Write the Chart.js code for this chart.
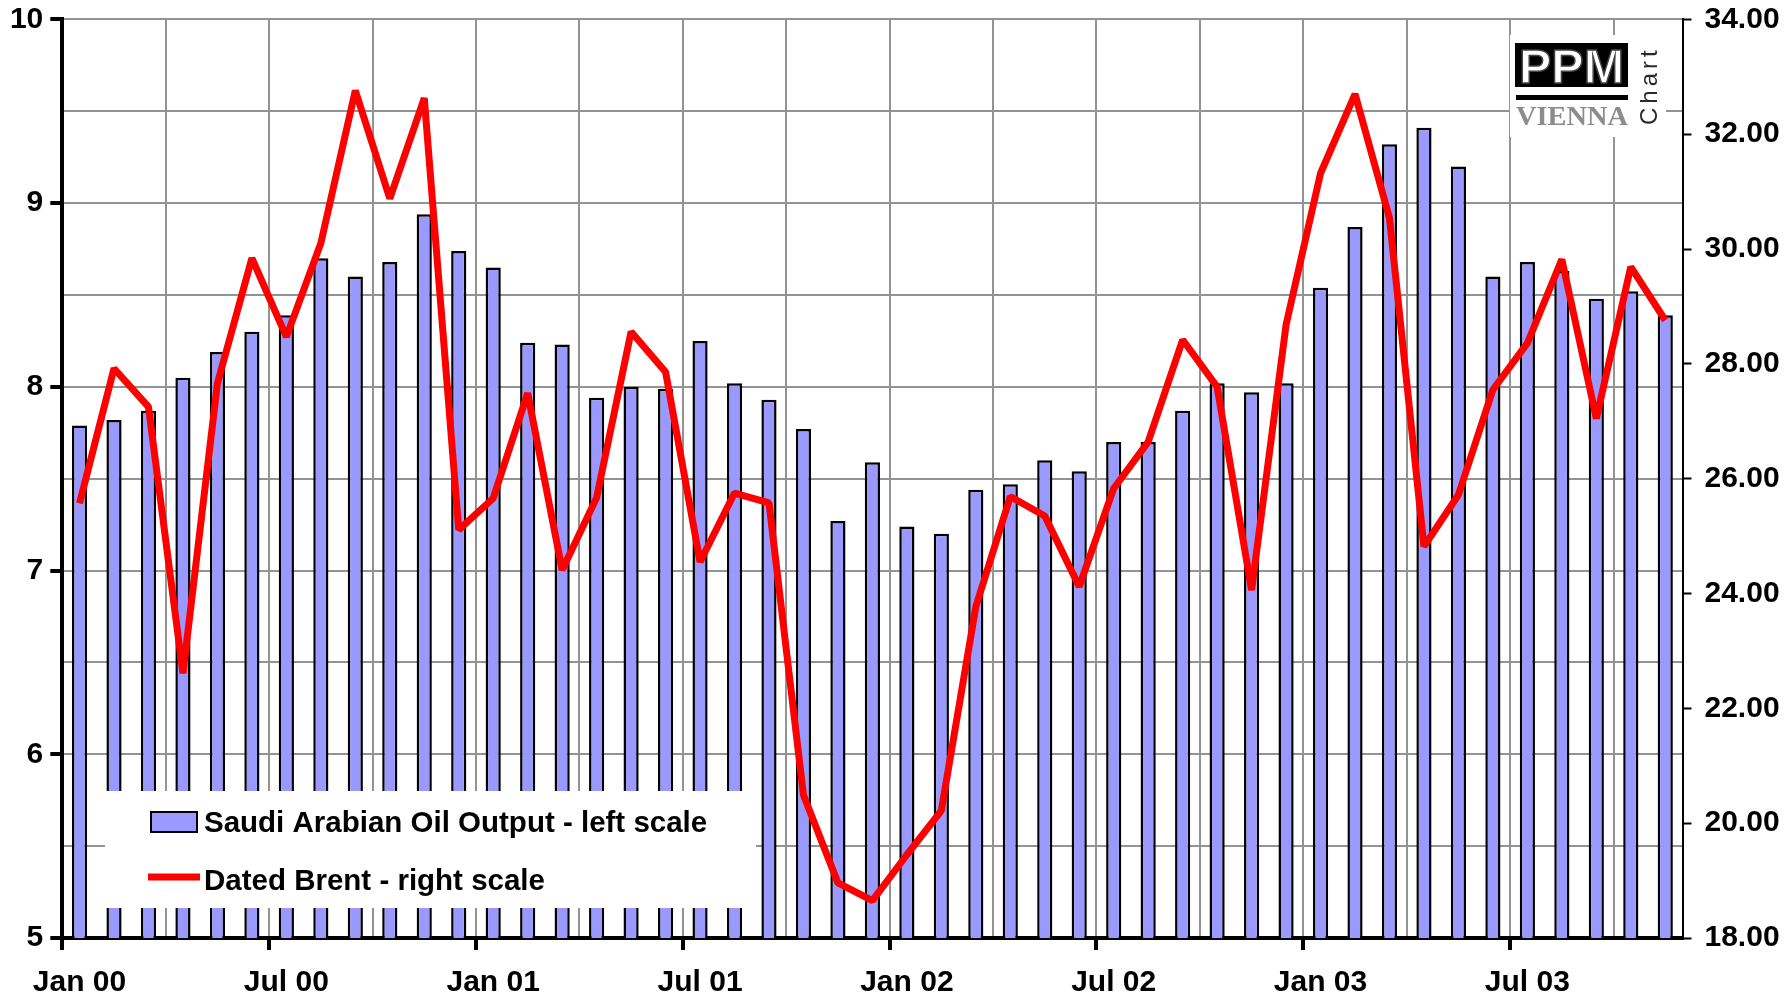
<!DOCTYPE html>
<html>
<head>
<meta charset="utf-8">
<script src="https://cdn.jsdelivr.net/npm/chart.js@4/dist/chart.umd.min.js"></script>
<style>
  html, body { margin: 0; padding: 0; background: #ffffff; }
  #wrap { width: 1785px; height: 996px; }
</style>
</head>
<body>
<div id="wrap"><canvas id="c" width="1785" height="996"></canvas></div>
<script>
// ---- data ----
const categories = [
  'Jan 00','Feb 00','Mar 00','Apr 00','May 00','Jun 00','Jul 00','Aug 00','Sep 00','Oct 00','Nov 00','Dec 00',
  'Jan 01','Feb 01','Mar 01','Apr 01','May 01','Jun 01','Jul 01','Aug 01','Sep 01','Oct 01','Nov 01','Dec 01',
  'Jan 02','Feb 02','Mar 02','Apr 02','May 02','Jun 02','Jul 02','Aug 02','Sep 02','Oct 02','Nov 02','Dec 02',
  'Jan 03','Feb 03','Mar 03','Apr 03','May 03','Jun 03','Jul 03','Aug 03','Sep 03','Oct 03','Nov 03'
];
const saudiOutput = [
  7.79, 7.82, 7.87, 8.05, 8.19, 8.30, 8.39, 8.70, 8.60, 8.68, 8.94, 8.74,
  8.65, 8.24, 8.23, 7.94, 8.00, 7.99, 8.25, 8.02, 7.93, 7.77, 7.27, 7.59,
  7.24, 7.20, 7.44, 7.47, 7.60, 7.54, 7.70, 7.70, 7.87, 8.02, 7.97, 8.02,
  8.54, 8.87, 9.32, 9.41, 9.20, 8.60, 8.68, 8.63, 8.48, 8.52, 8.39
];
const datedBrent = [
  25.57, 27.92, 27.25, 22.61, 27.66, 29.84, 28.47, 30.10, 32.76, 30.88, 32.63, 25.11,
  25.66, 27.49, 24.41, 25.67, 28.56, 27.86, 24.55, 25.75, 25.58, 20.49, 18.96, 18.65,
  19.45, 20.22, 23.77, 25.69, 25.35, 24.12, 25.83, 26.64, 28.42, 27.60, 24.06, 28.68,
  31.32, 32.70, 30.54, 24.82, 25.72, 27.55, 28.36, 29.82, 27.05, 29.69, 28.76
];
const seriesNames = ['Saudi Arabian Oil Output - left scale', 'Dated Brent - right scale'];
const leftTickRange = { min: 5, max: 10, step: 0.5 };
const rightTickRange = { min: 18, max: 34, step: 2 };

// ---- styles ----
const FONT = '"Liberation Sans", Arial, Helvetica, sans-serif';
const FSIZE = 30;
const BAR_FILL = '#9999FF';
const LINE_RED = '#FF0000';
const GRID = '#939393';

const legendPlugin = {
  id: 'boxLegend',
  afterDraw(chart) {
    const ctx = chart.ctx;
    const ds = chart.data.datasets;
    ctx.save();
    ctx.fillStyle = '#ffffff';
    ctx.fillRect(105, 791, 651, 117);
    ctx.fillStyle = ds[0].backgroundColor;
    ctx.fillRect(151, 812, 46, 20);
    ctx.strokeStyle = '#000000';
    ctx.lineWidth = 2;
    ctx.strokeRect(151, 812, 46, 20);
    ctx.strokeStyle = ds[1].borderColor;
    ctx.lineWidth = 7;
    ctx.beginPath();
    ctx.moveTo(148, 877);
    ctx.lineTo(200, 877);
    ctx.stroke();
    ctx.fillStyle = '#000000';
    ctx.font = 'bold 29.5px ' + FONT;
    ctx.textAlign = 'left';
    ctx.textBaseline = 'alphabetic';
    ctx.fillText(ds[0].label, 204, 832);
    ctx.fillText(ds[1].label, 204, 890);
    ctx.restore();
  }
};

const logoPlugin = {
  id: 'logo',
  afterDraw(chart) {
    const ctx = chart.ctx;
    ctx.save();
    ctx.fillStyle = '#ffffff';
    ctx.fillRect(1510, 35, 156, 102);
    ctx.fillStyle = '#000000';
    ctx.fillRect(1515, 43, 113, 44);
    ctx.font = 'bold 49px ' + FONT;
    ctx.textAlign = 'left';
    ctx.textBaseline = 'alphabetic';
    let w = ctx.measureText('PPM').width;
    ctx.save();
    ctx.translate(1519, 83);
    ctx.scale(105 / w, 1);
    ctx.fillStyle = '#ffffff';
    ctx.fillText('PPM', 0, 0);
    ctx.lineWidth = 1.5;
    ctx.strokeStyle = '#444444';
    ctx.strokeText('PPM', 0, 0);
    ctx.restore();
    ctx.fillStyle = '#000000';
    ctx.fillRect(1516, 95, 112, 5);
    ctx.font = 'bold 28px "Liberation Serif", "Times New Roman", serif';
    w = ctx.measureText('VIENNA').width;
    ctx.save();
    ctx.translate(1516, 125);
    ctx.scale(112 / w, 1);
    ctx.fillStyle = '#8c8c8c';
    ctx.fillText('VIENNA', 0, 0);
    ctx.restore();
    ctx.save();
    ctx.translate(1657, 125);
    ctx.rotate(-Math.PI / 2);
    ctx.font = '24px ' + FONT;
    try { ctx.letterSpacing = '4px'; } catch (e) {}
    ctx.fillStyle = '#2a2a2a';
    ctx.fillText('Chart', 0, 0);
    ctx.restore();
    ctx.restore();
  }
};

const noPadV = (w) => (s) => { s.width = w; s.paddingTop = 0; s.paddingBottom = 0; };

new Chart(document.getElementById('c'), {
  data: {
    labels: categories,
    datasets: [
      {
        type: 'bar',
        label: seriesNames[0],
        data: saudiOutput,
        yAxisID: 'y',
        backgroundColor: BAR_FILL,
        borderColor: '#000000',
        borderWidth: 2.5,
        borderSkipped: false,
        categoryPercentage: 1.0,
        barPercentage: 0.44,
        order: 2
      },
      {
        type: 'line',
        label: seriesNames[1],
        data: datedBrent,
        yAxisID: 'y1',
        borderColor: LINE_RED,
        backgroundColor: LINE_RED,
        borderWidth: 7,
        borderJoinStyle: 'bevel',
        pointRadius: 0,
        tension: 0,
        fill: false,
        order: 1
      }
    ]
  },
  options: {
    responsive: false,
    animation: false,
    devicePixelRatio: 1,
    layout: { padding: { top: 19.4, left: 0, right: 0, bottom: 0 } },
    plugins: {
      legend: { display: false },
      tooltip: { enabled: false },
      title: { display: false }
    },
    scales: {
      x: {
        type: 'category',
        offset: true,
        grid: {
          offset: true,
          color: (c) => (c.index !== undefined && c.index % 3 === 0) ? GRID : 'rgba(0,0,0,0)',
          lineWidth: 2,
          drawTicks: true,
          tickLength: 12,
          tickWidth: 4,
          tickColor: (c) => (c.index !== undefined && c.index % 6 === 0) ? '#000000' : 'rgba(0,0,0,0)'
        },
        border: { display: true, color: '#000000', width: 4 },
        ticks: {
          autoSkip: false,
          maxRotation: 0,
          minRotation: 0,
          padding: 15,
          color: '#000000',
          font: { family: FONT, size: FSIZE, weight: 'bold' },
          callback: (v, i) => (i % 6 === 0 ? categories[i] : '')
        },
        afterFit: (s) => { s.height = 58; s.paddingLeft = 0; s.paddingRight = 0; }
      },
      y: {
        position: 'left',
        min: leftTickRange.min,
        max: leftTickRange.max,
        grid: {
          color: GRID,
          lineWidth: 2,
          drawTicks: true,
          tickLength: 12,
          tickWidth: 4,
          tickColor: (c) => (c.tick && Number.isInteger(c.tick.value)) ? '#000000' : 'rgba(0,0,0,0)'
        },
        border: { display: true, color: '#000000', width: 4 },
        ticks: {
          stepSize: leftTickRange.step,
          padding: 7,
          color: '#000000',
          font: { family: FONT, size: FSIZE, weight: 'bold' },
          callback: (v) => (Number.isInteger(v) ? String(v) : '')
        },
        afterFit: noPadV(62.3)
      },
      y1: {
        position: 'right',
        min: rightTickRange.min,
        max: rightTickRange.max,
        grid: {
          drawOnChartArea: false,
          drawTicks: true,
          tickLength: 9,
          tickWidth: 2,
          tickColor: '#000000'
        },
        border: { display: true, color: '#000000', width: 2 },
        ticks: {
          stepSize: rightTickRange.step,
          padding: 13,
          color: '#000000',
          font: { family: FONT, size: FSIZE, weight: 'bold' },
          callback: (v) => Number(v).toFixed(2)
        },
        afterFit: noPadV(102.5)
      }
    }
  },
  plugins: [legendPlugin, logoPlugin]
});
</script>
</body>
</html>
